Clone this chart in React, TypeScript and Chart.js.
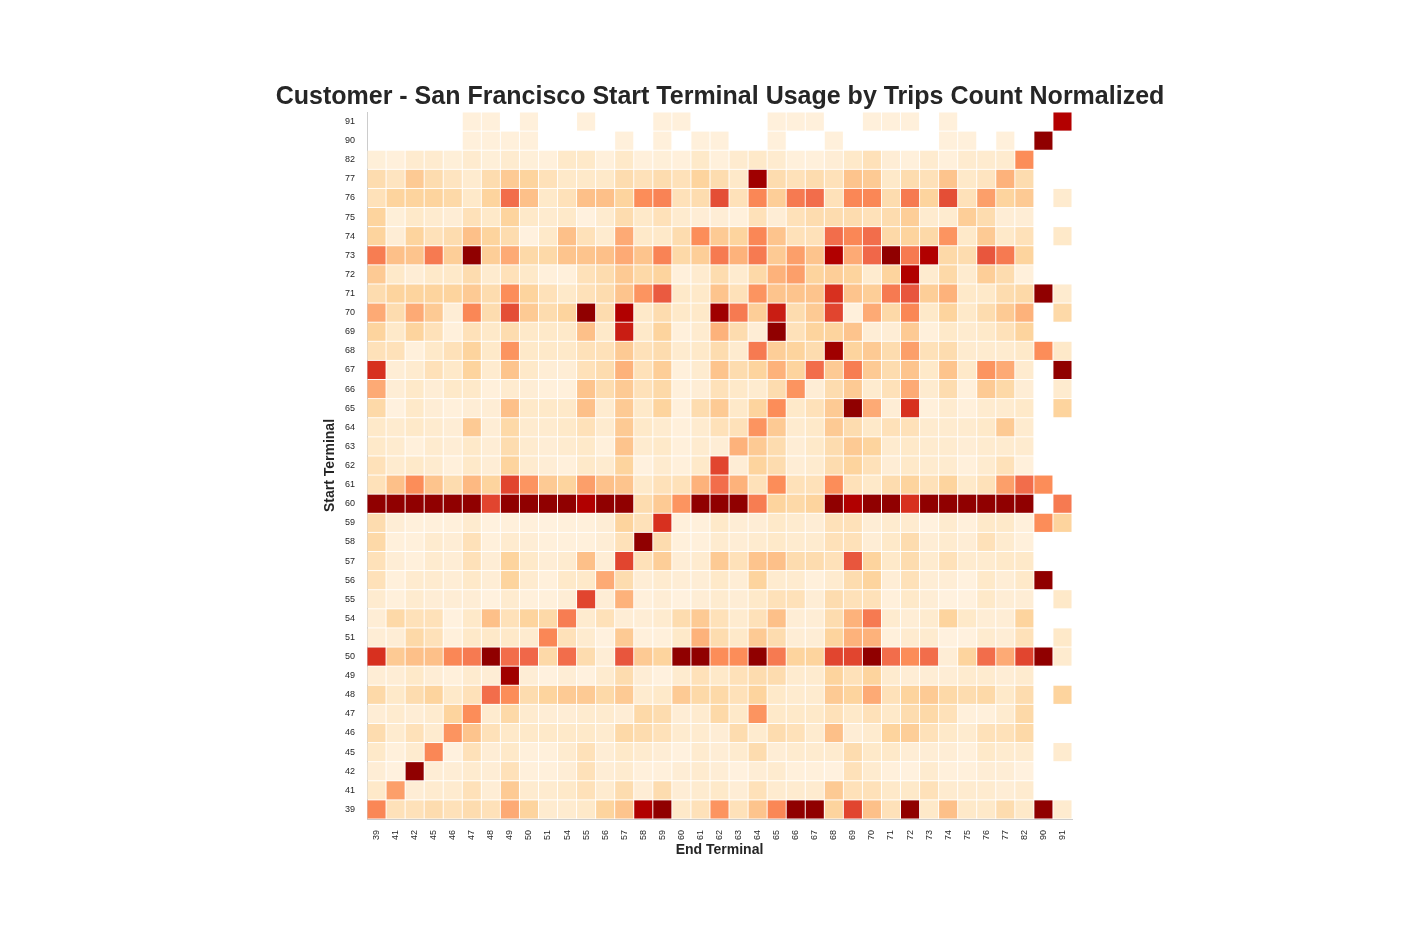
import { useEffect, useRef } from "react";
import { Chart, registerables } from "chart.js";

Chart.register(...registerables);

const N = null;

// Terminal ids (columns = end terminal, rows = start terminal, bottom to top)
const terminals = ["39", "41", "42", "45", "46", "47", "48", "49", "50", "51", "54", "55", "56", "57", "58", "59", "60", "61", "62", "63", "64", "65", "66", "67", "68", "69", "70", "71", "72", "73", "74", "75", "76", "77", "82", "90", "91"];
const endTerminals = terminals;
const startTerminals = terminals;

// Normalized usage per start terminal row, in end terminal order
const s39 = [.52, .17, .17, .2, .17, .2, .17, .42, .25, .1, .1, .12, .25, .33, .88, .96, .12, .17, .48, .17, .33, .52, .96, .96, .25, .7, .35, .17, .96, .12, .35, .12, .12, .2, .12, .96, .1];
const s41 = [.12, .45, .08, .1, .1, .17, .08, .3, .1, .1, .12, .17, .1, .2, .08, .2, .08, .1, .12, .08, .17, .1, .1, .1, .3, .17, .17, .12, .12, .17, .1, .1, .1, .08, .1, N, N];
const s42 = [.08, .05, .96, .08, .08, .1, .08, .17, .06, .06, .08, .17, .08, .1, .06, .06, .08, .1, .08, .05, .08, .1, .06, .06, .05, .17, .1, .06, .05, .1, .06, .06, .08, .08, .05, N, N];
const s45 = [.12, .06, .1, .52, .05, .17, .08, .12, .06, .06, .1, .17, .08, .12, .1, .08, .05, .1, .08, .1, .2, .08, .1, .1, .1, .2, .12, .12, .08, .08, .08, .06, .12, .1, .1, N, .1];
const s46 = [.2, .1, .17, .1, .48, .33, .17, .12, .12, .12, .12, .12, .1, .22, .2, .17, .1, .1, .08, .2, .1, .2, .17, .1, .35, .08, .1, .25, .28, .17, .12, .1, .17, .17, .22, N, N];
const s47 = [.08, .1, .08, .1, .25, .5, .1, .22, .1, .08, .08, .1, .1, .08, .22, .2, .08, .1, .22, .12, .48, .12, .12, .12, .17, .12, .17, .12, .2, .22, .17, .06, .06, .1, .22, N, N];
const s48 = [.22, .12, .2, .25, .12, .17, .6, .5, .2, .25, .3, .3, .22, .3, .1, .12, .3, .22, .22, .17, .25, .12, .1, .1, .3, .25, .42, .17, .25, .3, .22, .2, .22, .12, .2, N, .25];
const s49 = [.08, .08, .12, .08, .06, .1, .08, .92, .08, .05, .08, .05, .1, .2, .08, .05, .1, .17, .12, .17, .2, .2, .1, .1, .25, .17, .25, .1, .08, .08, .08, .1, .1, .08, .1, N, N];
const s50 = [.75, .3, .35, .35, .52, .56, .96, .6, .62, .22, .6, .2, .08, .66, .3, .25, .96, .96, .5, .5, .96, .56, .25, .25, .7, .7, .96, .6, .5, .6, .08, .25, .6, .42, .7, .96, .1];
const s51 = [.08, .08, .22, .17, .06, .12, .12, .12, .1, .52, .17, .1, .05, .3, .06, .06, .12, .4, .2, .12, .3, .2, .08, .08, .25, .4, .4, .06, .1, .1, .05, .05, .1, .08, .17, N, .12];
const s54 = [.08, .22, .17, .17, .05, .12, .35, .17, .25, .22, .55, .1, .17, .08, .08, .1, .2, .3, .17, .1, .17, .35, .08, .08, .2, .4, .56, .1, .08, .1, .25, .12, .08, .08, .25, N, N];
const s55 = [.1, .06, .1, .08, .08, .08, .05, .1, .06, .06, .08, .7, .08, .4, .06, .08, .05, .08, .1, .08, .12, .17, .17, .08, .2, .17, .17, .06, .12, .08, .05, .05, .12, .08, .08, N, .12];
const s56 = [.17, .06, .1, .1, .08, .12, .08, .25, .1, .06, .12, .12, .42, .2, .08, .1, .08, .08, .12, .08, .25, .1, .1, .06, .1, .2, .25, .08, .17, .08, .08, .05, .12, .08, .12, .96, N];
const s57 = [.17, .08, .06, .1, .08, .17, .08, .25, .12, .08, .1, .35, .08, .7, .17, .28, .08, .1, .3, .17, .33, .35, .2, .2, .17, .66, .25, .12, .2, .1, .17, .1, .1, .12, .12, N, N];
const s58 = [.22, .06, .06, .1, .08, .17, .06, .1, .08, .06, .06, .06, .08, .17, .96, .2, .06, .06, .1, .08, .1, .12, .1, .1, .17, .17, .08, .12, .2, .08, .1, .08, .17, .1, .06, N, N];
const s59 = [.2, .08, .06, .06, .06, .1, .05, .06, .06, .05, .06, .06, .08, .25, .17, .75, .06, .06, .12, .08, .08, .12, .1, .08, .17, .17, .08, .1, .1, .05, .1, .06, .12, .12, .06, .5, .25];
const s60 = [.96, .96, .96, .96, .96, .96, .7, .96, .96, .96, .96, .88, .96, .96, .2, .3, .48, .96, .96, .96, .55, .25, .22, .25, .96, .88, .96, .96, .75, .96, .96, .96, .96, .96, .96, N, .56];
const s61 = [.17, .35, .5, .33, .2, .38, .25, .7, .48, .3, .25, .45, .35, .33, .12, .17, .17, .4, .6, .4, .17, .5, .17, .17, .5, .17, .12, .2, .25, .17, .25, .12, .17, .45, .6, .5, N];
const s62 = [.17, .1, .12, .1, .06, .12, .08, .25, .1, .08, .06, .12, .1, .25, .05, .1, .06, .12, .7, .08, .25, .2, .08, .1, .2, .25, .17, .08, .12, .1, .1, .06, .1, .17, .06, N, N];
const s63 = [.12, .1, .06, .1, .08, .12, .08, .2, .1, .08, .1, .12, .06, .33, .1, .12, .06, .1, .08, .4, .3, .2, .08, .12, .2, .3, .25, .1, .12, .1, .1, .08, .1, .1, .1, N, N];
const s64 = [.12, .1, .12, .1, .08, .3, .08, .22, .1, .1, .12, .17, .1, .3, .12, .1, .06, .1, .17, .17, .48, .3, .1, .12, .3, .2, .12, .17, .17, .1, .1, .1, .12, .3, .1, N, N];
const s65 = [.22, .05, .12, .08, .06, .08, .08, .35, .12, .12, .12, .35, .1, .3, .12, .25, .06, .2, .3, .12, .25, .5, .12, .17, .3, .96, .42, .08, .75, .06, .1, .06, .1, .1, .12, N, .25];
const s66 = [.42, .08, .12, .08, .12, .12, .06, .1, .08, .06, .06, .33, .2, .3, .17, .22, .06, .08, .17, .12, .1, .2, .48, .08, .2, .3, .1, .17, .42, .1, .2, .06, .3, .22, .08, N, .1];
const s67 = [.75, .08, .1, .17, .12, .25, .1, .33, .12, .08, .08, .17, .2, .4, .17, .28, .06, .1, .33, .2, .25, .4, .25, .6, .3, .55, .3, .2, .33, .12, .33, .12, .48, .42, .1, N, .96];
const s68 = [.17, .17, .06, .12, .17, .25, .12, .48, .12, .12, .12, .17, .17, .3, .17, .2, .1, .12, .2, .1, .56, .28, .25, .2, .92, .25, .3, .2, .45, .17, .2, .1, .1, .1, .12, .5, .12];
const s69 = [.25, .12, .25, .17, .06, .17, .12, .2, .12, .12, .12, .35, .12, .8, .12, .25, .06, .1, .4, .2, .08, .96, .17, .25, .25, .33, .08, .08, .3, .06, .12, .1, .12, .17, .25, N, N];
const s70 = [.42, .2, .42, .3, .08, .52, .2, .68, .3, .2, .25, .96, .2, .88, .12, .2, .12, .12, .92, .56, .28, .8, .2, .3, .7, .06, .42, .22, .52, .12, .25, .12, .2, .3, .4, N, .22];
const s71 = [.2, .25, .25, .25, .25, .3, .2, .5, .25, .17, .12, .17, .2, .33, .48, .65, .12, .12, .33, .17, .48, .33, .33, .33, .75, .33, .28, .56, .66, .28, .4, .12, .12, .2, .22, .96, .1];
const s72 = [.3, .12, .08, .12, .12, .2, .1, .17, .12, .06, .06, .17, .2, .3, .22, .25, .06, .1, .2, .1, .22, .4, .45, .25, .28, .25, .1, .25, .88, .1, .22, .1, .28, .2, .06, N, N];
const s73 = [.55, .35, .33, .56, .28, .96, .28, .42, .22, .22, .33, .33, .35, .42, .33, .53, .22, .28, .56, .4, .56, .3, .45, .33, .88, .42, .62, .96, .56, .88, .22, .2, .66, .56, .25, N, N];
const s74 = [.25, .08, .25, .17, .2, .35, .25, .2, .05, .12, .35, .17, .1, .42, .12, .12, .2, .5, .3, .25, .52, .33, .17, .17, .6, .52, .6, .22, .25, .22, .48, .12, .3, .12, .17, N, .12];
const s75 = [.25, .07, .12, .1, .08, .17, .12, .25, .12, .1, .12, .05, .1, .2, .12, .17, .1, .08, .08, .06, .17, .08, .17, .2, .2, .2, .17, .2, .28, .1, .1, .28, .2, .08, .08, N, N];
const s76 = [.17, .25, .25, .25, .22, .12, .25, .6, .35, .12, .17, .35, .35, .25, .5, .53, .17, .2, .68, .17, .52, .28, .56, .6, .17, .52, .52, .2, .56, .25, .68, .17, .45, .25, .3, N, .1];
const s77 = [.2, .15, .3, .2, .15, .1, .2, .3, .25, .17, .12, .12, .12, .2, .17, .2, .17, .25, .2, .12, .92, .2, .17, .2, .17, .33, .3, .12, .2, .17, .33, .12, .15, .4, .2, N, N];
const s82 = [.07, .06, .1, .1, .07, .1, .07, .1, .07, .06, .12, .12, .06, .12, .06, .07, .06, .12, .06, .1, .12, .1, .06, .06, .08, .12, .17, .08, .06, .1, .06, .1, .1, .1, .5, N, N];
const s90 = [N, N, N, N, N, .06, .06, .06, .06, N, N, N, N, .06, N, .06, N, .06, .06, N, N, .06, N, N, .06, N, N, N, N, N, .06, .06, N, .06, N, .96, N];
const s91 = [N, N, N, N, N, .06, .06, N, .06, N, N, .06, N, N, N, .06, .06, N, N, N, N, .06, .06, .06, N, N, .06, .06, .06, N, .06, N, N, N, N, N, .875];

const rows = [s39, s41, s42, s45, s46, s47, s48, s49, s50, s51, s54, s55, s56, s57, s58, s59, s60, s61, s62, s63, s64, s65, s66, s67, s68, s69, s70, s71, s72, s73, s74, s75, s76, s77, s82, s90, s91];

const TITLE = "Customer - San Francisco Start Terminal Usage by Trips Count Normalized";
const FONT = "'Liberation Sans', Arial, Helvetica, sans-serif";
const TEXT = "#262626";

const stops = ["#fff7ec", "#fee8c8", "#fdd49e", "#fdbb84", "#fc8d59", "#ef6548", "#d7301f", "#b30000", "#7f0000"];
const stopRgb = stops.map((h) => [parseInt(h.slice(1, 3), 16), parseInt(h.slice(3, 5), 16), parseInt(h.slice(5, 7), 16)]);

function cmap(v: number): string {
  const t = Math.max(0, Math.min(1, v)) * (stops.length - 1);
  const i = Math.min(Math.floor(t), stops.length - 2);
  const f = t - i;
  const a = stopRgb[i];
  const b = stopRgb[i + 1];
  const c = a.map((x, k) => Math.round(x + (b[k] - x) * f));
  return `rgb(${c[0]},${c[1]},${c[2]})`;
}

export default function App() {
  const ref = useRef<HTMLCanvasElement | null>(null);

  useEffect(() => {
    if (!ref.current) return;
    const datasets = rows.map((vals, j) => ({
      label: startTerminals[j],
      data: vals.map((v) => (v == null ? null : [j - 0.475, j + 0.475])),
      backgroundColor: vals.map((v) => (v == null ? "rgba(0,0,0,0)" : cmap(v))),
      borderWidth: 0,
      barPercentage: 0.95,
      categoryPercentage: 1,
      grouped: false,
    }));

    const chart = new Chart(ref.current, {
      type: "bar",
      data: { labels: endTerminals, datasets: datasets as any },
      options: {
        responsive: false,
        animation: false,
        devicePixelRatio: 1,
        layout: { padding: { top: 80, left: 36, right: 0, bottom: 77 } },
        plugins: {
          legend: { display: false },
          tooltip: { enabled: false },
          title: {
            display: true,
            text: TITLE,
            fullSize: true,
            color: TEXT,
            font: { family: FONT, size: 25, weight: "bold", lineHeight: 1.16 },
            padding: { top: 3, bottom: 0 },
          },
        },
        scales: {
          x: {
            type: "category",
            offset: true,
            grid: { display: false, drawTicks: false },
            border: { display: true, color: "#cccccc", width: 1 },
            ticks: {
              autoSkip: false,
              maxRotation: 90,
              minRotation: 90,
              padding: 11,
              color: TEXT,
              font: { family: FONT, size: 9 },
            },
            title: {
              display: true,
              text: "End Terminal",
              color: TEXT,
              padding: 0,
              font: { family: FONT, size: 14, weight: "bold" },
            },
            afterFit: (scale: any) => {
              scale.height = 40;
            },
          },
          y: {
            type: "linear",
            position: "left",
            min: -0.5,
            max: startTerminals.length - 0.5,
            grid: { display: false, drawTicks: false },
            border: { display: true, color: "#cccccc", width: 1 },
            afterBuildTicks: (scale: any) => {
              scale.ticks = startTerminals.map((_, i) => ({ value: i }));
            },
            ticks: {
              autoSkip: false,
              padding: 12,
              color: TEXT,
              font: { family: FONT, size: 9 },
              callback: (value: any) => startTerminals[Number(value)] ?? "",
            },
            title: {
              display: true,
              text: "Start Terminal",
              color: TEXT,
              padding: { top: 286, bottom: 0 },
              font: { family: FONT, size: 14, weight: "bold" },
            },
            afterFit: (scale: any) => {
              scale.width = 331;
            },
          },
          spacer: {
            type: "linear",
            position: "right",
            display: true,
            grid: { display: false, drawTicks: false },
            border: { display: false },
            ticks: { display: false },
            afterFit: (scale: any) => {
              scale.width = 332;
            },
          },
        },
      },
    });
    return () => chart.destroy();
  }, []);

  return (
    <div style={{ position: "absolute", left: 0, top: 0, width: 1404, height: 936, background: "#ffffff" }}>
      <canvas ref={ref} width={1404} height={936} style={{ display: "block" }} />
    </div>
  );
}
